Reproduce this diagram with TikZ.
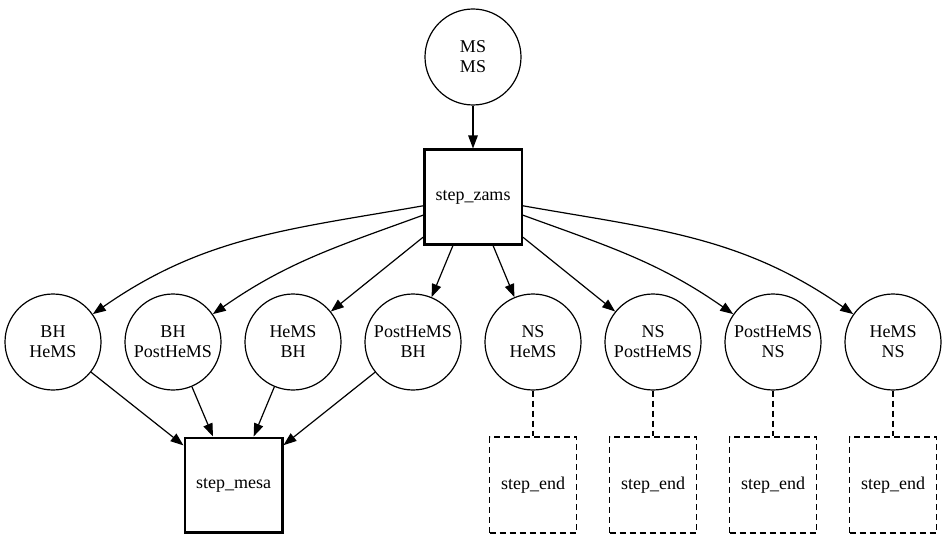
\documentclass[tikz,border=0pt]{standalone}
\usepackage{fontspec}
\setmainfont{Liberation Serif}
\usetikzlibrary{arrows.meta}

\tikzset{
    state/.style={circle, draw, line width=1.2pt, minimum size=96pt, inner sep=0pt, align=center, font=\fontsize{18}{20}\selectfont},
    stepbox/.style={rectangle, draw, line width=2.5pt, minimum width=97.5pt, minimum height=94.5pt, font=\fontsize{18}{20}\selectfont},
    endbox/.style={rectangle, draw, line width=1.2pt, dash pattern=on 6pt off 4pt, minimum width=87pt, minimum height=96pt, font=\fontsize{18}{20}\selectfont},
    flow/.style={-{Triangle[length=13pt,width=9.5pt]}, line width=1.2pt},
    endline/.style={line width=1.2pt, dash pattern=on 6pt off 4pt},
}

\begin{document}
\begin{tikzpicture}[x=1pt, y=1pt]
    \useasboundingbox (0,0) rectangle (947,539);

    % Draw nodes
    \node[state] (ms) at (473,482) {MS\\MS};
    \node[stepbox] (zams) at (473,342) {step\_zams};

    \node[state] (bhhems) at (53,197) {BH\\HeMS};
    \node[state] (bhposthems) at (173,197) {BH\\PostHeMS};
    \node[state] (hemsbh) at (293,197) {HeMS\\BH};
    \node[state] (posthemsbh) at (413,197) {PostHeMS\\BH};
    \node[state] (nshems) at (533,197) {NS\\HeMS};
    \node[state] (nsposthems) at (653,197) {NS\\PostHeMS};
    \node[state] (posthemsns) at (773,197) {PostHeMS\\NS};
    \node[state] (hemsns) at (893,197) {HeMS\\NS};

    \node[stepbox] (mesa) at (233.5,54) {step\_mesa};
    \node[endbox] (end1) at (533,54) {step\_end};
    \node[endbox] (end2) at (653,54) {step\_end};
    \node[endbox] (end3) at (773,54) {step\_end};
    \node[endbox] (end4) at (893,54) {step\_end};

    % Draw connections
    \draw[flow] (ms) -- (zams);
    \draw[flow] (zams) to[out=190, in=35] (bhhems);
    \draw[flow] (zams) to[out=200, in=35] (bhposthems);
    \draw[flow] (zams) -- (hemsbh);
    \draw[flow] (zams) -- (posthemsbh);
    \draw[flow] (zams) -- (nshems);
    \draw[flow] (zams) -- (nsposthems);
    \draw[flow] (zams) to[out=-20, in=145] (posthemsns);
    \draw[flow] (zams) to[out=-10, in=145] (hemsns);

    \draw[flow] (bhhems) -- (mesa);
    \draw[flow] (bhposthems) -- (mesa);
    \draw[flow] (hemsbh) -- (mesa);
    \draw[flow] (posthemsbh) -- (mesa);

    \draw[endline] (nshems) -- (end1);
    \draw[endline] (nsposthems) -- (end2);
    \draw[endline] (posthemsns) -- (end3);
    \draw[endline] (hemsns) -- (end4);
\end{tikzpicture}
\end{document}
